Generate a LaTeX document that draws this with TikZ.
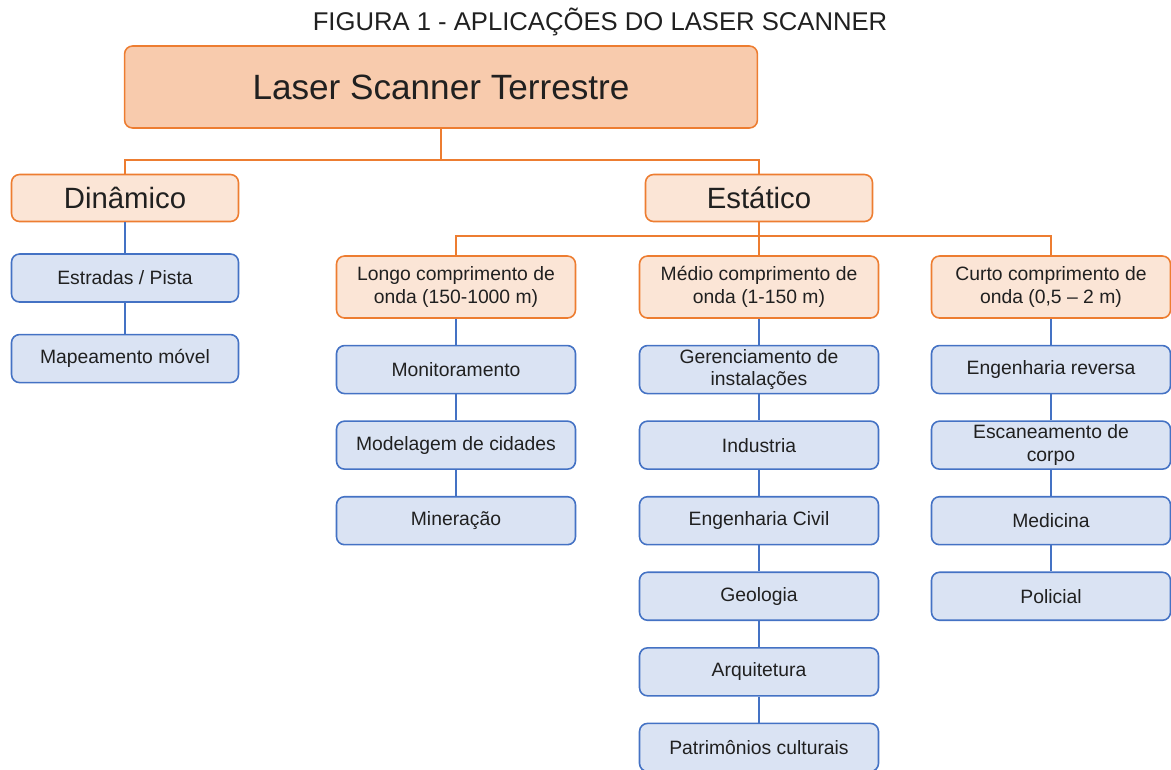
\documentclass[tikz,border=0pt]{standalone}
\usepackage{fontspec}
\setmainfont{Liberation Sans}
\usetikzlibrary{positioning}
\definecolor{orangeline}{HTML}{ED7D31}
\definecolor{orangefill}{HTML}{F8CBAD}
\definecolor{peachfill}{HTML}{FBE5D6}
\definecolor{blueline}{HTML}{4472C4}
\definecolor{bluefill}{HTML}{DAE3F3}
\definecolor{textgray}{HTML}{202020}

\begin{document}
\begin{tikzpicture}[x=0.02cm, y=-0.02cm, node distance=0.52cm, line width=0.9pt, text=textgray, box/.style = {draw, rounded corners=0.16cm, align=center, inner sep=1pt}, rootbox/.style = {box, draw=orangeline, fill=orangefill, minimum width=12.66cm, minimum height=1.64cm, font=\fontsize{20}{24}\selectfont}, kindbox/.style = {box, draw=orangeline, fill=peachfill, minimum width=4.54cm, minimum height=0.94cm, font=\fontsize{16.7}{20}\selectfont}, rangebox/.style = {box, draw=orangeline, fill=peachfill, minimum width=4.78cm, minimum height=1.24cm, font=\fontsize{11}{13}\selectfont}, appbox/.style = {box, draw=blueline, fill=bluefill, minimum width=4.78cm, minimum height=0.96cm, font=\fontsize{11}{13}\selectfont}, busline/.style = {draw=orangeline}, appline/.style = {draw=blueline}]
\useasboundingbox (0,0) rectangle (1171,769);
\node (title) at (600,22) {\fontsize{14.6}{17}\selectfont FIGURA 1 - APLICAÇÕES DO LASER SCANNER};
\node[rootbox] (tls) at (441,87) {Laser Scanner Terrestre};
\node[kindbox] (dina) at (125,198) {Dinâmico};
\node[kindbox] (esta) at (759,198) {Estático};
\node[appbox, minimum width=4.54cm] (estr) at (125,278) {Estradas / Pista};
\node[appbox, minimum width=4.54cm] (mape) [below=0.62cm of estr] {Mapeamento móvel};
\node[rangebox] (longo) at (456,287) {Longo comprimento de\\onda (150-1000 m)};
\node[rangebox] (medio) at (759,287) {Médio comprimento de\\onda (1-150 m)};
\node[rangebox] (curto) at (1051,287) {Curto comprimento de\\onda (0,5 – 2 m)};
\node[appbox] (moni) [below=of longo] {Monitoramento};
\node[appbox] (mode) [below=of moni] {Modelagem de cidades};
\node[appbox] (mine) [below=of mode] {Mineração};
\node[appbox] (gere) [below=of medio] {Gerenciamento de\\instalações};
\node[appbox] (indu) [below=of gere] {Industria};
\node[appbox] (engc) [below=of indu] {Engenharia Civil};
\node[appbox] (geol) [below=of engc] {Geologia};
\node[appbox] (arqu) [below=of geol] {Arquitetura};
\node[appbox] (patr) [below=of arqu] {Patrimônios culturais};
\node[appbox] (engr) [below=of curto] {Engenharia reversa};
\node[appbox] (esca) [below=of engr] {Escaneamento de\\corpo};
\node[appbox] (medi) [below=of esca] {Medicina};
\node[appbox] (poli) [below=of medi] {Policial};
\coordinate (fork1) at (441,160);
\coordinate (fork2) at (759,236);
\draw[busline] (tls) -- (fork1);
\draw[busline] (dina) |- (fork1) -| (esta);
\draw[busline] (esta) -- (fork2);
\draw[busline] (longo) |- (fork2) -| (curto);
\draw[busline] (fork2) -- (medio);
\draw[appline] (dina) -- (estr) -- (mape);
\draw[appline] (longo) -- (moni) -- (mode) -- (mine);
\draw[appline] (medio) -- (gere) -- (indu) -- (engc) -- (geol) -- (arqu) -- (patr);
\draw[appline] (curto) -- (engr) -- (esca) -- (medi) -- (poli);
\end{tikzpicture}
\end{document}
